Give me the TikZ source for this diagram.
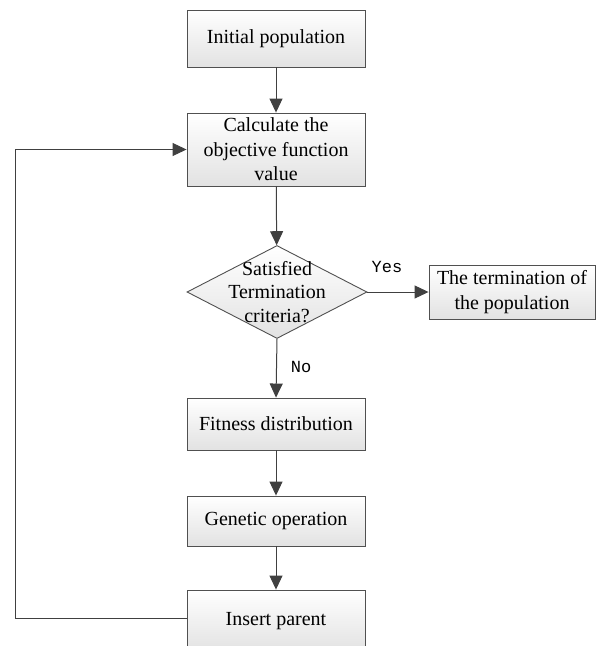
\documentclass[tikz,border=0pt]{standalone}
\usepackage{fontspec}
\setmainfont{Liberation Serif}
\newfontfamily\answerfont{Liberation Mono}
\usepackage{tikz}
\usetikzlibrary{arrows.meta,shapes.geometric}
\definecolor{edge}{HTML}{505050}
\definecolor{wire}{HTML}{404040}
\definecolor{boxbottom}{HTML}{E2E2E2}

\tikzset{
	stepbox/.style={draw=edge,line width=0.9pt,top color=white,bottom color=boxbottom,
		minimum width=178pt,inner sep=0pt,align=center,font=\fontsize{20}{24.5}\selectfont},
	choice/.style={diamond,draw=edge,line width=0.9pt,top color=white,bottom color=boxbottom,
		minimum width=180pt,minimum height=93pt,inner sep=0pt},
	flow/.style={draw=wire,line width=1pt,-{Triangle[length=14pt,width=13pt]}},
	answer/.style={font=\answerfont\fontsize{17}{20}\selectfont,inner sep=0pt}
}

\begin{document}
\begin{tikzpicture}[x=1pt,y=-1pt]
		\useasboundingbox (0,0) rectangle (596,646);
		
		\node[stepbox,minimum height=57pt] (initpop) at (276,38.5) {Initial population};
		\node[stepbox,minimum height=73pt] (calc) at (276,149.5) {Calculate the\\objective function\\value};
		\node[choice] (decide) at (277,292) {};
		\node[align=center,inner sep=0pt,font=\fontsize{20}{23.5}\selectfont] (decidetext) at (decide.center) {Satisfied\\Termination\\criteria?};
		\node[stepbox,minimum width=166pt,minimum height=54pt] (ending) at (512,292) {The termination of\\the population};
		\node[stepbox,minimum height=52pt] (fitness) at (276,424) {Fitness distribution};
		\node[stepbox,minimum height=50pt] (genetic) at (276,521) {Genetic operation};
		\node[stepbox,minimum height=62pt] (insert) at (276,621) {Insert parent};
		
		\node[answer] (yes) at (387,267) {Yes};
		\node[answer] (no) at (301,367) {No};
		
		\draw[flow] (initpop) -- (calc);
		\draw[flow] (calc) -- (decide);
		\draw[flow] (decide.east) -- (ending.west);
		\draw[flow] (decide.south) -- (fitness.north);
		\draw[flow] (fitness) -- (genetic);
		\draw[flow] (genetic) -- (insert);
		% loop back to the evaluation step
		\draw[flow] (insert.west) ++(0,-3) -- ++(-171.5,0) |- (calc.west);
	\end{tikzpicture}
\end{document}
